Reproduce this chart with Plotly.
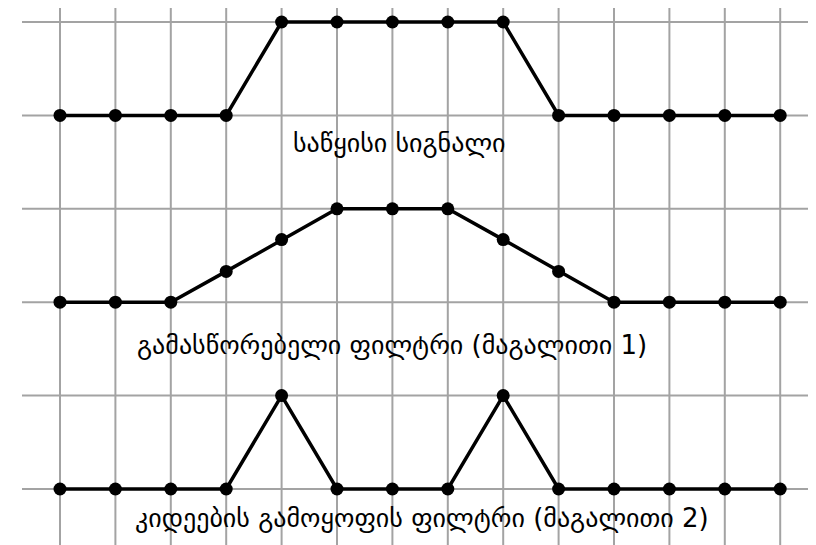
import plotly.graph_objects as go

# sample index along the signal
samples = list(range(14))

# three signals, values on a 0..1 scale
original = [0, 0, 0, 0, 1, 1, 1, 1, 1, 0, 0, 0, 0, 0]
smoothing = [0, 0, 0, 0.33, 0.67, 1, 1, 1, 0.67, 0.33, 0, 0, 0, 0]
edges = [0, 0, 0, 0, 1, 0, 0, 0, 1, 0, 0, 0, 0, 0]

labels = [
    "საწყისი სიგნალი",
    "გამასწორებელი ფილტრი (მაგალითი 1)",
    "კიდეების გამოყოფის ფილტრი (მაგალითი 2)",
]

baselines = [4, 2, 0]

# the page body has an 8px margin, so the figure sits at (8, 8)
off = 8
W, H = 816 - off, 545 - off
dx = 55.4   # px per sample
dy = 93.4   # px per level
x0, y0 = 60 - off, 489 - off  # pixel position of sample 0 / level 0


def px_to_x(px):
    return (px - off - x0) / dx


def px_to_y(py):
    return (y0 - (py - off)) / dy


label_pos = [(px_to_x(399), px_to_y(143)),
             (px_to_x(392), px_to_y(345)),
             (px_to_x(422), px_to_y(518))]

xr = [-x0 / dx, (W - x0) / dx]
yr = [-(H - y0) / dy, y0 / dy]

fig = go.Figure()

grid = dict(color="#a3a3a3", width=2)
for s in samples:
    fig.add_shape(type="line", x0=s, x1=s, y0=yr[0], y1=px_to_y(6),
                  line=grid, layer="below")
for lv in range(6):
    fig.add_shape(type="line", x0=px_to_x(22), x1=px_to_x(810),
                  y0=lv, y1=lv, line=grid, layer="below")

for vals, base in zip([original, smoothing, edges], baselines):
    fig.add_trace(go.Scatter(
        x=samples, y=[v + base for v in vals], mode="lines+markers",
        line=dict(color="black", width=3.5),
        marker=dict(color="black", size=13),
        showlegend=False, hoverinfo="skip"))

for text, (tx, ty) in zip(labels, label_pos):
    fig.add_annotation(x=tx, y=ty, text=text, showarrow=False,
                       font=dict(family="DejaVu Sans", size=26,
                                 color="black"))

fig.update_xaxes(range=xr, visible=False, fixedrange=True)
fig.update_yaxes(range=yr, visible=False, fixedrange=True)
fig.update_layout(width=W, height=H, margin=dict(l=0, r=0, t=0, b=0),
                  plot_bgcolor="white", paper_bgcolor="white")

fig.write_html("out.html")
